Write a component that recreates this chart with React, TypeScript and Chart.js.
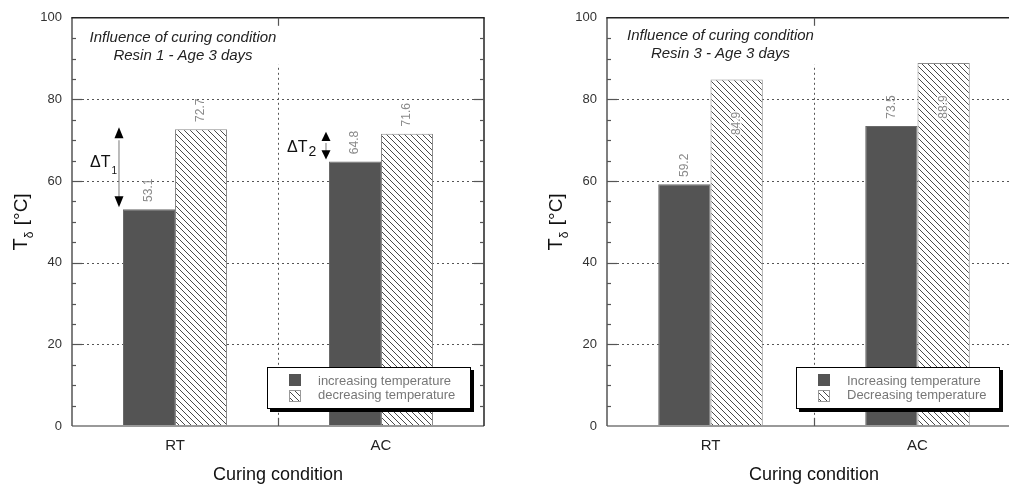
import React, { useEffect, useRef } from "react";
import { Chart, registerables } from "chart.js";
Chart.register(...registerables);

const categories = ["RT", "AC"];
const resin1Increasing = [53.1, 64.8];
const resin1Decreasing = [72.7, 71.6];
const resin3Increasing = [59.2, 73.5];
const resin3Decreasing = [84.9, 88.9];
const yTicks = [0, 20, 40, 60, 80, 100];
const legend1 = ["increasing temperature", "decreasing temperature"];
const legend3 = ["Increasing temperature", "Decreasing temperature"];
const title1 = ["Influence of curing condition", "Resin 1 - Age 3 days"];
const title3 = ["Influence of curing condition", "Resin 3 - Age 3 days"];
const xTitle = "Curing condition";
const deltaLabels = ["1", "2"];

const FONT = "'Liberation Sans', Arial, Helvetica, sans-serif";
const DARK = "#545454";

function hatchPattern(ctx: CanvasRenderingContext2D): CanvasPattern {
  const s = 6;
  const c = document.createElement("canvas");
  c.width = s;
  c.height = s;
  const g = c.getContext("2d")!;
  g.fillStyle = "#fff";
  g.fillRect(0, 0, s, s);
  g.strokeStyle = "#4a4a4a";
  g.lineWidth = 1;
  g.beginPath();
  g.moveTo(-1, -1);
  g.lineTo(s + 1, s + 1);
  g.moveTo(-1, s - 1);
  g.lineTo(1, s + 1);
  g.moveTo(s - 1, -1);
  g.lineTo(s + 1, 1);
  g.stroke();
  return ctx.createPattern(c, "repeat")!;
}

type Cfg = {
  inc: number[];
  dec: number[];
  yWidth: number;
  legendLabels: string[];
  legendDX: number;
  titleLines: string[];
  titleDX: number;
  titleDY: number;
  deltas: boolean;
  insideDec: boolean;
};

function line(ctx: CanvasRenderingContext2D, x1: number, y1: number, x2: number, y2: number) {
  ctx.beginPath();
  ctx.moveTo(x1, y1);
  ctx.lineTo(x2, y2);
  ctx.stroke();
}

function makePlugin(cfg: Cfg) {
  return {
    id: "decor",
    beforeDatasetsDraw(chart: any) {
      const { ctx, chartArea: ca, scales } = chart;
      const x = scales.x, y = scales.y;
      ctx.save();
      ctx.strokeStyle = "#555";
      ctx.lineWidth = 1;
      ctx.setLineDash([2, 3]);
      for (const v of yTicks) {
        if (v === 0 || v === 100) continue;
        const py = Math.round(y.getPixelForValue(v)) + 0.5;
        line(ctx, ca.left, py, ca.right, py);
      }
      const dxp = Math.round((x.getPixelForValue(0) + x.getPixelForValue(1)) / 2) + 0.5;
      line(ctx, dxp, ca.top, dxp, ca.bottom);
      ctx.setLineDash([]);
      // title block
      const cx = x.getPixelForValue(0) + cfg.titleDX;
      ctx.font = `italic 15px ${FONT}`;
      const w = Math.max(...cfg.titleLines.map((t) => ctx.measureText(t).width));
      ctx.fillStyle = "#fff";
      ctx.fillRect(cx - w / 2 - 3, ca.top + 2, w + 6, 45);
      ctx.fillStyle = "#222";
      ctx.textAlign = "center";
      ctx.textBaseline = "middle";
      cfg.titleLines.forEach((t, i) => ctx.fillText(t, cx, ca.top + cfg.titleDY + i * 18));
      ctx.restore();
    },
    afterDatasetsDraw(chart: any) {
      const { ctx, chartArea: ca, scales } = chart;
      const x = scales.x, y = scales.y;
      const m0 = chart.getDatasetMeta(0).data;
      const m1 = chart.getDatasetMeta(1).data;
      ctx.save();
      // value labels
      ctx.font = `12px ${FONT}`;
      ctx.textAlign = "center";
      ctx.textBaseline = "middle";
      const drawVal = (bx: number, by: number, txt: string, halo: boolean) => {
        ctx.save();
        ctx.translate(bx, by);
        ctx.rotate(-Math.PI / 2);
        if (halo) {
          ctx.strokeStyle = "rgba(255,255,255,0.9)";
          ctx.lineWidth = 3;
          ctx.lineJoin = "round";
          ctx.strokeText(txt, 0, 0);
        }
        ctx.fillStyle = "#8a8a8a";
        ctx.fillText(txt, 0, 0);
        ctx.restore();
      };
      cfg.inc.forEach((v, i) => drawVal(m0[i].x, m0[i].y - 19, v.toFixed(1), false));
      cfg.dec.forEach((v, i) => {
        const by = cfg.insideDec ? m1[i].y + 44 : m1[i].y - 19;
        drawVal(m1[i].x, by, v.toFixed(1), cfg.insideDec);
      });
      // delta T annotations
      if (cfg.deltas) {
        const spec = [
          { dx: -4, tdx: -29, tdy: -2, sub: 10, sdy: 7 },
          { dx: -3, tdx: -39, tdy: 4, sub: 14, sdy: 4 },
        ];
        spec.forEach((s, i) => {
          const ax = m0[i].x - m0[i].width / 2 + s.dx;
          const yTop = m1[i].y;
          const yBot = m0[i].y;
          const hh = Math.min(11, (yBot - yTop) / 3);
          ctx.strokeStyle = "#777";
          ctx.lineWidth = 1;
          line(ctx, ax, yTop + hh, ax, yBot - hh);
          ctx.fillStyle = "#000";
          ctx.beginPath();
          ctx.moveTo(ax, yTop - 2);
          ctx.lineTo(ax - 4.5, yTop - 2 + hh);
          ctx.lineTo(ax + 4.5, yTop - 2 + hh);
          ctx.closePath();
          ctx.fill();
          ctx.beginPath();
          ctx.moveTo(ax, yBot - 2);
          ctx.lineTo(ax - 4.5, yBot - 2 - hh);
          ctx.lineTo(ax + 4.5, yBot - 2 - hh);
          ctx.closePath();
          ctx.fill();
          const mid = (yTop + yBot) / 2;
          ctx.fillStyle = "#111";
          ctx.textAlign = "left";
          ctx.textBaseline = "alphabetic";
          ctx.font = `16px ${FONT}`;
          const tx = ax + s.tdx;
          ctx.fillText("\u0394T", tx, mid + s.tdy);
          const tw = ctx.measureText("\u0394T").width;
          ctx.font = `${s.sub}px ${FONT}`;
          ctx.fillText(deltaLabels[i], tx + tw + 1, mid + s.tdy + s.sdy);
        });
      }
      // frame
      ctx.lineCap = "butt";
      ctx.strokeStyle = "#999";
      ctx.lineWidth = 2;
      line(ctx, ca.left, ca.bottom, ca.right, ca.bottom);
      ctx.strokeStyle = "#555";
      ctx.lineWidth = 1.5;
      line(ctx, ca.left, ca.top, ca.left, ca.bottom);
      ctx.strokeStyle = "#222";
      line(ctx, ca.left - 0.7, ca.top, ca.right + 0.7, ca.top);
      line(ctx, ca.right, ca.top, ca.right, ca.bottom);
      // inward ticks
      ctx.lineWidth = 1.2;
      ctx.strokeStyle = "#555";
      for (let v = 5; v < 100; v += 5) {
        const py = Math.round(y.getPixelForValue(v)) + 0.5;
        const len = v % 20 === 0 ? 10 : 4;
        line(ctx, ca.left, py, ca.left + len, py);
        line(ctx, ca.right, py, ca.right - len, py);
      }
      const dxp = Math.round((x.getPixelForValue(0) + x.getPixelForValue(1)) / 2) + 0.5;
      line(ctx, dxp, ca.top, dxp, ca.top + 8);
      line(ctx, dxp, ca.bottom, dxp, ca.bottom - 8);
      // legend
      const lw = 204, lh = 42;
      const lx = ca.left + cfg.legendDX;
      const ly = ca.bottom - 59;
      ctx.fillStyle = "#000";
      ctx.fillRect(lx + 3, ly + 3, lw, lh);
      ctx.fillStyle = "#fff";
      ctx.fillRect(lx, ly, lw, lh);
      ctx.strokeStyle = "#000";
      ctx.lineWidth = 1;
      ctx.strokeRect(lx + 0.5, ly + 0.5, lw - 1, lh - 1);
      ctx.fillStyle = DARK;
      ctx.fillRect(lx + 22, ly + 7, 12, 12);
      ctx.fillStyle = hatchPattern(ctx);
      ctx.fillRect(lx + 22, ly + 23, 12, 12);
      ctx.strokeStyle = "#999";
      ctx.strokeRect(lx + 22.5, ly + 23.5, 11, 11);
      ctx.font = `13px ${FONT}`;
      ctx.fillStyle = "#777";
      ctx.textAlign = "left";
      ctx.textBaseline = "middle";
      ctx.fillText(cfg.legendLabels[0], lx + 51, ly + 14);
      ctx.fillText(cfg.legendLabels[1], lx + 51, ly + 28);
      ctx.restore();
    },
    afterDraw(chart: any) {
      const { ctx, chartArea: ca } = chart;
      ctx.save();
      ctx.fillStyle = "#111";
      // x title
      ctx.font = `18px ${FONT}`;
      ctx.textAlign = "center";
      ctx.textBaseline = "middle";
      ctx.fillText(xTitle, (ca.left + ca.right) / 2, ca.bottom + 49);
      // y title (rotated) T_delta [°C]
      ctx.translate(ca.left - 45, (ca.top + ca.bottom) / 2);
      ctx.rotate(-Math.PI / 2);
      ctx.textAlign = "left";
      ctx.textBaseline = "alphabetic";
      ctx.font = `20px ${FONT}`;
      const wT = ctx.measureText("T").width;
      ctx.font = `12px ${FONT}`;
      const wD = ctx.measureText("\u03b4").width;
      ctx.font = `19px ${FONT}`;
      const wC = ctx.measureText(" [\u00b0C]").width;
      const total = wT + wD + 1 + wC;
      let px = -total / 2;
      ctx.font = `20px ${FONT}`;
      ctx.fillText("T", px, 0);
      px += wT;
      ctx.font = `12px ${FONT}`;
      ctx.fillText("\u03b4", px, 6);
      px += wD + 1;
      ctx.font = `19px ${FONT}`;
      ctx.fillText(" [\u00b0C]", px, 0);
      ctx.restore();
    },
  };
}

function makeChart(canvas: HTMLCanvasElement, cfg: Cfg) {
  const ctx = canvas.getContext("2d")!;
  return new Chart(canvas, {
    type: "bar",
    data: {
      labels: categories,
      datasets: [
        {
          label: cfg.legendLabels[0],
          data: cfg.inc,
          backgroundColor: DARK,
          borderColor: "#6a6a6a",
          borderWidth: 1,
          categoryPercentage: 0.505,
          barPercentage: 1,
        },
        {
          label: cfg.legendLabels[1],
          data: cfg.dec,
          backgroundColor: hatchPattern(ctx),
          borderColor: "#8a8a8a",
          borderWidth: 1,
          categoryPercentage: 0.505,
          barPercentage: 1,
        },
      ],
    },
    options: {
      responsive: false,
      animation: false,
      devicePixelRatio: 1,
      layout: { padding: { top: 12, right: 16, left: 0, bottom: 0 } },
      plugins: { legend: { display: false }, tooltip: { enabled: false } },
      scales: {
        x: {
          grid: { display: false, drawTicks: false },
          border: { display: false },
          ticks: { color: "#222", font: { size: 15, family: FONT }, padding: 11 },
          afterFit: (s: any) => {
            s.height = 64;
          },
        },
        y: {
          min: 0,
          max: 100,
          grid: { display: false, drawTicks: false },
          border: { display: false },
          ticks: {
            stepSize: 20,
            color: "#333",
            font: { size: 13, family: FONT },
            padding: 10,
            callback: (v: any) => (yTicks.includes(Number(v)) ? String(v) : ""),
          },
          afterFit: (s: any) => {
            s.width = cfg.yWidth;
          },
        },
      },
    } as any,
    plugins: [makePlugin(cfg)],
  });
}

export default function App() {
  const r1 = useRef<HTMLCanvasElement>(null);
  const r2 = useRef<HTMLCanvasElement>(null);
  useEffect(() => {
    const c1 = makeChart(r1.current!, {
      inc: resin1Increasing,
      dec: resin1Decreasing,
      yWidth: 72,
      legendLabels: legend1,
      legendDX: 195,
      titleLines: title1,
      titleDX: 8,
      titleDY: 20,
      deltas: true,
      insideDec: false,
    });
    const c2 = makeChart(r2.current!, {
      inc: resin3Increasing,
      dec: resin3Decreasing,
      yWidth: 97,
      legendLabels: legend3,
      legendDX: 189,
      titleLines: title3,
      titleDX: 10,
      titleDY: 18,
      deltas: false,
      insideDec: true,
    });
    return () => {
      c1.destroy();
      c2.destroy();
    };
  }, []);
  return (
    <div
      style={{
        position: "fixed",
        left: 0,
        top: 0,
        width: 1009,
        height: 490,
        overflow: "hidden",
        background: "#fff",
      }}
    >
      <canvas ref={r1} width={500} height={490} style={{ position: "absolute", left: 0, top: 0 }} />
      <canvas ref={r2} width={527} height={490} style={{ position: "absolute", left: 510, top: 0 }} />
    </div>
  );
}
